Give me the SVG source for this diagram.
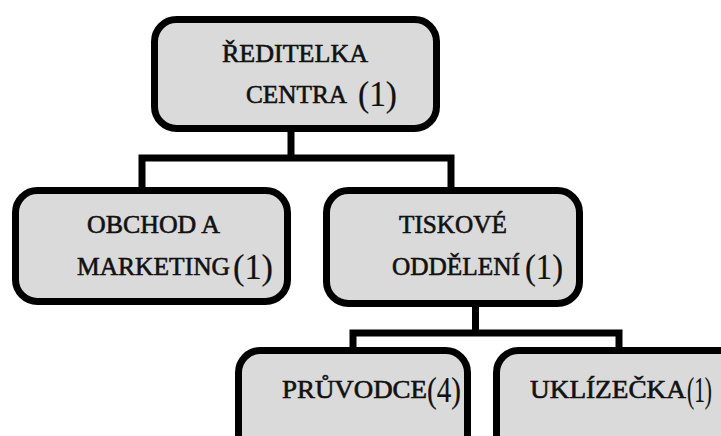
<svg xmlns="http://www.w3.org/2000/svg" width="721" height="436" viewBox="0 0 721 436">
<style>
.box{fill:#dadada;stroke:#000;stroke-width:7}
.conn{fill:none;stroke:#000;stroke-width:7;stroke-linejoin:miter}
.t{font-family:"Liberation Serif","Times New Roman",serif;font-size:26px;fill:#111;stroke:#111;stroke-width:0.6}
.n{font-family:"Liberation Serif","Times New Roman",serif;font-size:36px;fill:#111;stroke:#111;stroke-width:0.2}
</style>
<rect x="0" y="0" width="721" height="436" fill="#fff"/>
<g id="connectors">
<path class="conn" d="M291 132 V158 M142 187 V158 H451 V187"/>
<path class="conn" d="M475.5 307 V333 M353 347 V333 H619 V347"/>
</g>
<g id="reditelka">
<rect class="box" x="154.5" y="19.5" width="282" height="109" rx="22"/>
<text class="t" x="222" y="62" textLength="146" lengthAdjust="spacingAndGlyphs">ŘEDITELKA</text>
<text class="t" x="246" y="103" textLength="101" lengthAdjust="spacingAndGlyphs">CENTRA</text>
<text class="n" x="358" y="106" textLength="39" lengthAdjust="spacingAndGlyphs">(1)</text>
</g>
<g id="obchod">
<rect class="box" x="15.5" y="190.5" width="272" height="111" rx="22"/>
<text class="t" x="87" y="233" textLength="133" lengthAdjust="spacingAndGlyphs">OBCHOD A</text>
<text class="t" x="77" y="275" textLength="153" lengthAdjust="spacingAndGlyphs">MARKETING</text>
<text class="n" x="233" y="279" textLength="40" lengthAdjust="spacingAndGlyphs">(1)</text>
</g>
<g id="tiskove">
<rect class="box" x="326.5" y="190.5" width="253" height="113" rx="22"/>
<text class="t" x="399" y="233" textLength="108" lengthAdjust="spacingAndGlyphs">TISKOVÉ</text>
<text class="t" x="392" y="275" textLength="128" lengthAdjust="spacingAndGlyphs">ODDĚLENÍ</text>
<text class="n" x="525" y="279" textLength="38" lengthAdjust="spacingAndGlyphs">(1)</text>
</g>
<g id="pruvodce">
<rect class="box" x="238.5" y="350.5" width="229" height="110" rx="22"/>
<text class="t" x="282" y="398" textLength="145" lengthAdjust="spacingAndGlyphs">PRŮVODCE</text>
<text class="n" x="427" y="402" textLength="34" lengthAdjust="spacingAndGlyphs">(4)</text>
</g>
<g id="uklizecka">
<rect class="box" x="496.5" y="350.5" width="260" height="110" rx="22"/>
<text class="t" x="530" y="398" textLength="156" lengthAdjust="spacingAndGlyphs">UKLÍZEČKA</text>
<text class="n" x="687" y="402" textLength="25" lengthAdjust="spacingAndGlyphs">(1)</text>
</g>
</svg>
